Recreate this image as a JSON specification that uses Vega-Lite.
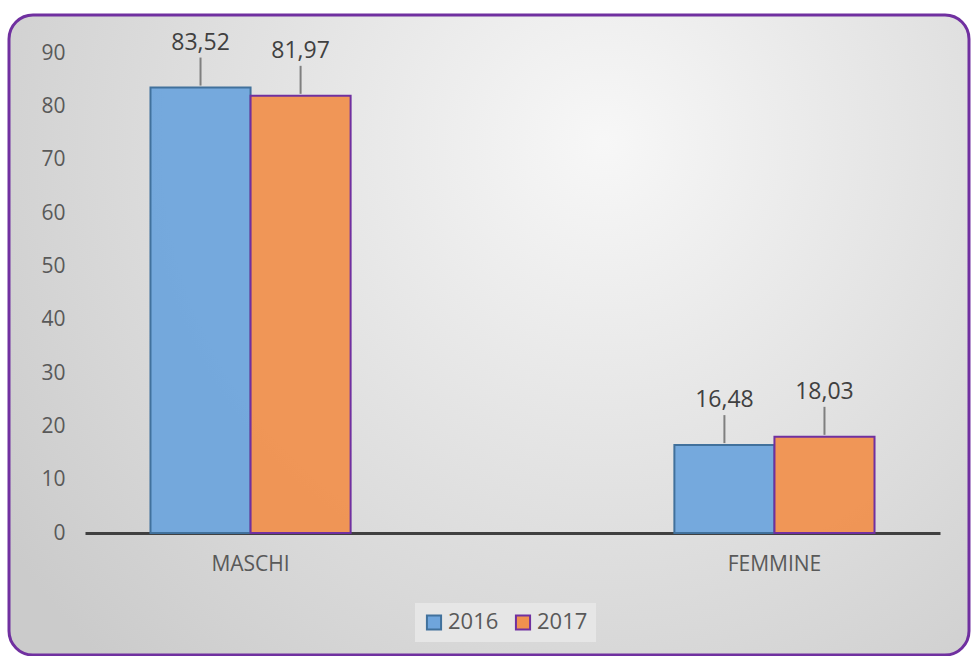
{
  "$schema": "https://vega.github.io/schema/vega-lite/v6.json",
  "width": 960,
  "height": 640,
  "padding": {"left": 9, "top": 15, "right": 3, "bottom": 1},
  "autosize": {"type": "none"},
  "background": "white",
  "config": {
    "font": "Open Sans",
    "view": {
      "fill": {"gradient": "radial", "x1": 0.62, "y1": 0.3, "r1": 0, "x2": 0.62, "y2": 0.3, "r2": 0.75,
        "stops": [{"offset": 0, "color": "#f7f7f7"}, {"offset": 1, "color": "#cbcbcb"}]},
      "stroke": "#7030A0",
      "strokeWidth": 3,
      "cornerRadius": 24
    }
  },
  "data": {
    "values": [
      {"category": "MASCHI", "year": "2016", "value": 83.52, "label": "83,52"},
      {"category": "MASCHI", "year": "2017", "value": 81.97, "label": "81,97"},
      {"category": "FEMMINE", "year": "2016", "value": 16.48, "label": "16,48"},
      {"category": "FEMMINE", "year": "2017", "value": 18.03, "label": "18,03"}
    ]
  },
  "encoding": {
    "x": {
      "field": "category", "type": "nominal", "sort": ["MASCHI", "FEMMINE"],
      "scale": {"range": [76, 931], "paddingInner": 0.618, "paddingOuter": 0.125},
      "axis": {"title": null, "labelAngle": 0, "ticks": false, "domainColor": "#404040", "domainWidth": 3,
        "labelPadding": 20, "labelFontSize": 21, "labelColor": "#595959", "offset": -122, "labelFont": "Open Sans"}
    },
    "xOffset": {"field": "year", "type": "nominal", "sort": ["2016", "2017"]},
    "y": {
      "field": "value", "type": "quantitative",
      "scale": {"domain": [0, 90], "range": [518, 38], "nice": false, "zero": true},
      "axis": {"title": null, "values": [0, 10, 20, 30, 40, 50, 60, 70, 80, 90], "grid": false, "domain": false,
        "ticks": false, "labelPadding": 0, "offset": -56, "labelFontSize": 21, "labelColor": "#595959", "labelFont": "Open Sans"}
    }
  },
  "layer": [
    {
      "mark": {"type": "bar", "strokeWidth": 2, "fillOpacity": 0.95},
      "encoding": {
        "color": {
          "field": "year", "type": "nominal",
          "scale": {"domain": ["2016", "2017"], "range": ["#6FA5DC", "#F0914F"]},
          "legend": {"title": null, "orient": "none", "direction": "horizontal", "legendX": 406, "legendY": 588,
            "symbolType": "square", "symbolSize": 200, "symbolStrokeWidth": 2, "labelFontSize": 22,
            "labelColor": "#595959", "fillColor": "#e6e6e6", "padding": 8, "columnPadding": 12, "labelOffset": 3,
            "labelFont": "Open Sans"}
        },
        "stroke": {
          "field": "year", "type": "nominal",
          "scale": {"domain": ["2016", "2017"], "range": ["#41719C", "#7030A0"]},
          "legend": {"title": null, "orient": "none", "direction": "horizontal", "legendX": 406, "legendY": 588,
            "symbolType": "square", "symbolSize": 200, "symbolStrokeWidth": 2, "labelFontSize": 22,
            "labelColor": "#595959", "fillColor": "#e6e6e6", "padding": 8, "columnPadding": 12, "labelOffset": 3,
            "labelFont": "Open Sans"}
        }
      }
    },
    {
      "mark": {"type": "rule", "color": "#7f7f7f", "strokeWidth": 2, "yOffset": -2, "y2Offset": -30},
      "encoding": {"y2": {"field": "value"}}
    },
    {
      "mark": {"type": "text", "baseline": "bottom", "dy": -33, "fontSize": 23, "color": "#404040", "font": "Open Sans"},
      "encoding": {"text": {"field": "label"}}
    }
  ]
}
